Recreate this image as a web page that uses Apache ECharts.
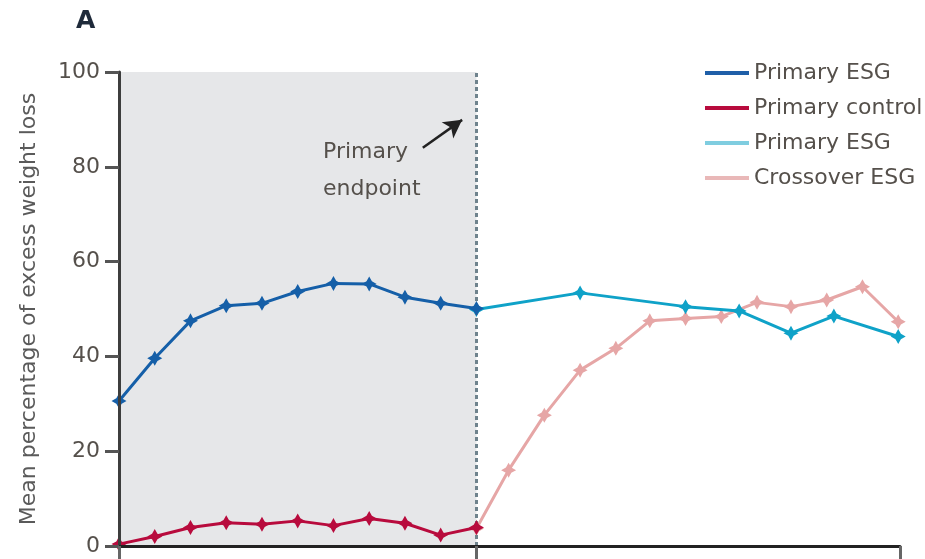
<!DOCTYPE html>
<html>
<head>
<meta charset="utf-8">
<script src="https://cdn.jsdelivr.net/npm/echarts@6/dist/echarts.min.js"></script>
<style>
html,body{margin:0;padding:0;background:#fff;}
#chart{width:925px;height:559px;}
</style>
</head>
<body>
<div id="chart"></div>
<script>
// ---- data ----
const primaryX = [0, 1, 2, 3, 4, 5, 6, 7, 8, 9, 10];
const primaryEsg = [30.6, 39.6, 47.5, 50.7, 51.2, 53.7, 55.4, 55.3, 52.5, 51.2, 50.1];
const primaryControl = [0.4, 2.0, 3.9, 4.9, 4.6, 5.3, 4.3, 5.8, 4.8, 2.3, 3.9];
const followX = [10, 12.9, 15.85, 17.35, 18.8, 20.0, 21.8];
const followEsg = [49.9, 53.4, 50.5, 49.6, 44.9, 48.5, 44.2];
const crossX = [10, 10.9, 11.9, 12.9, 13.9, 14.85, 15.85, 16.85, 17.85, 18.8, 19.8, 20.8, 21.8];
const crossEsg = [3.7, 16.0, 27.6, 37.1, 41.7, 47.5, 48.0, 48.4, 51.4, 50.5, 51.9, 54.7, 47.3];
const xTicks = [0, 10, 21.85];
const yTicks = [0, 20, 40, 60, 80, 100];
const seriesNames = ['Primary ESG', 'Primary control', 'Primary ESG ', 'Crossover ESG'];
const endpointX = 10;
const arrowFrom = [8.5, 84.0];
const arrowTo = [9.6, 89.9];

const FONT = 'DejaVu Sans';
const TXT = '#55504b';
const star = 'path://M0,-10 L3.6,-3.6 L10,0 L3.6,3.6 L0,10 L-3.6,3.6 L-10,0 L-3.6,-3.6 Z';
const zip = (xs, ys) => xs.map((x, i) => [x, ys[i]]);

const chart = echarts.init(document.getElementById('chart'), null, {renderer: 'canvas'});

function lineSeries(name, data, color, z) {
  return {
    name: name, type: 'line', data: data, z: z,
    symbol: star, symbolSize: 15, showSymbol: true,
    itemStyle: {color: color},
    lineStyle: {color: color, width: 3},
    emphasis: {disabled: true},
    animation: false
  };
}

const s1 = lineSeries(seriesNames[0], zip(primaryX, primaryEsg), '#155fa8', 5);
s1.markArea = {
  silent: true,
  itemStyle: {color: '#e6e7e9'},
  data: [[{xAxis: xTicks[0]}, {xAxis: endpointX}]]
};
s1.markLine = {
  silent: true, symbol: ['none', 'none'], label: {show: false},
  lineStyle: {color: '#6f838d', width: 3, type: [4, 3]},
  data: [{xAxis: endpointX}]
};
const s2 = lineSeries(seriesNames[1], zip(primaryX, primaryControl), '#b80b3d', 6);
s2.markLine = {
  silent: true, symbol: ['none', 'arrow'], symbolSize: [15, 18], label: {show: false},
  lineStyle: {color: '#222', width: 2.5, type: 'solid'},
  data: [[{coord: arrowFrom}, {coord: arrowTo}]]
};
const s3 = lineSeries(seriesNames[2], zip(followX, followEsg), '#0fa2c8', 4);
const s4 = lineSeries(seriesNames[3], zip(crossX, crossEsg), '#e6a6a6', 3);

const option = {
  backgroundColor: '#fff',
  animation: false,
  textStyle: {fontFamily: FONT},
  grid: {left: 119, right: 25, top: 72, bottom: 13, containLabel: false},
  legend: {
    orient: 'vertical', left: 700, top: 57, itemGap: 13,
    itemWidth: 44, itemHeight: 4, icon: 'rect',
    textStyle: {fontFamily: FONT, fontSize: 22, color: TXT},
    data: [
      {name: seriesNames[0], itemStyle: {color: '#1f5fa8'}},
      {name: seriesNames[1], itemStyle: {color: '#b80b3d'}},
      {name: seriesNames[2], itemStyle: {color: '#7fcde0'}},
      {name: seriesNames[3], itemStyle: {color: '#e9b8b8'}}
    ],
    selectedMode: false
  },
  xAxis: {
    type: 'value', min: xTicks[0], max: xTicks[2], z: 20,
    axisLine: {show: true, lineStyle: {color: '#222', width: 3}},
    axisTick: {show: true, length: 13, lineStyle: {color: '#666', width: 3}, customValues: xTicks},
    axisLabel: {show: false},
    splitLine: {show: false}
  },
  yAxis: {
    type: 'value', min: yTicks[0], max: yTicks[yTicks.length - 1], interval: 20, z: 20,
    name: 'Mean percentage of excess weight loss',
    nameLocation: 'middle', nameGap: 79, nameRotate: 90,
    nameTextStyle: {fontFamily: FONT, fontSize: 22, color: '#5a5a5a'},
    axisLine: {show: true, lineStyle: {color: '#3d3d3d', width: 3}},
    axisTick: {show: true, length: 14, lineStyle: {color: '#555', width: 3}},
    axisLabel: {margin: 19, fontFamily: FONT, fontSize: 22, color: TXT},
    splitLine: {show: false}
  },
  graphic: [
    {type: 'text', z: 100, left: 76, top: 9, style: {text: 'A', fontFamily: FONT, fontSize: 25, fontWeight: 'bold', fill: '#1e2a3a'}},
    {type: 'text', z: 100, left: 323, top: 141, style: {text: 'Primary', fontFamily: FONT, fontSize: 22, fill: TXT}},
    {type: 'text', z: 100, left: 323, top: 178, style: {text: 'endpoint', fontFamily: FONT, fontSize: 22, fill: TXT}}
  ],
  series: [s1, s2, s3, s4]
};
chart.setOption(option);
</script>
</body>
</html>
